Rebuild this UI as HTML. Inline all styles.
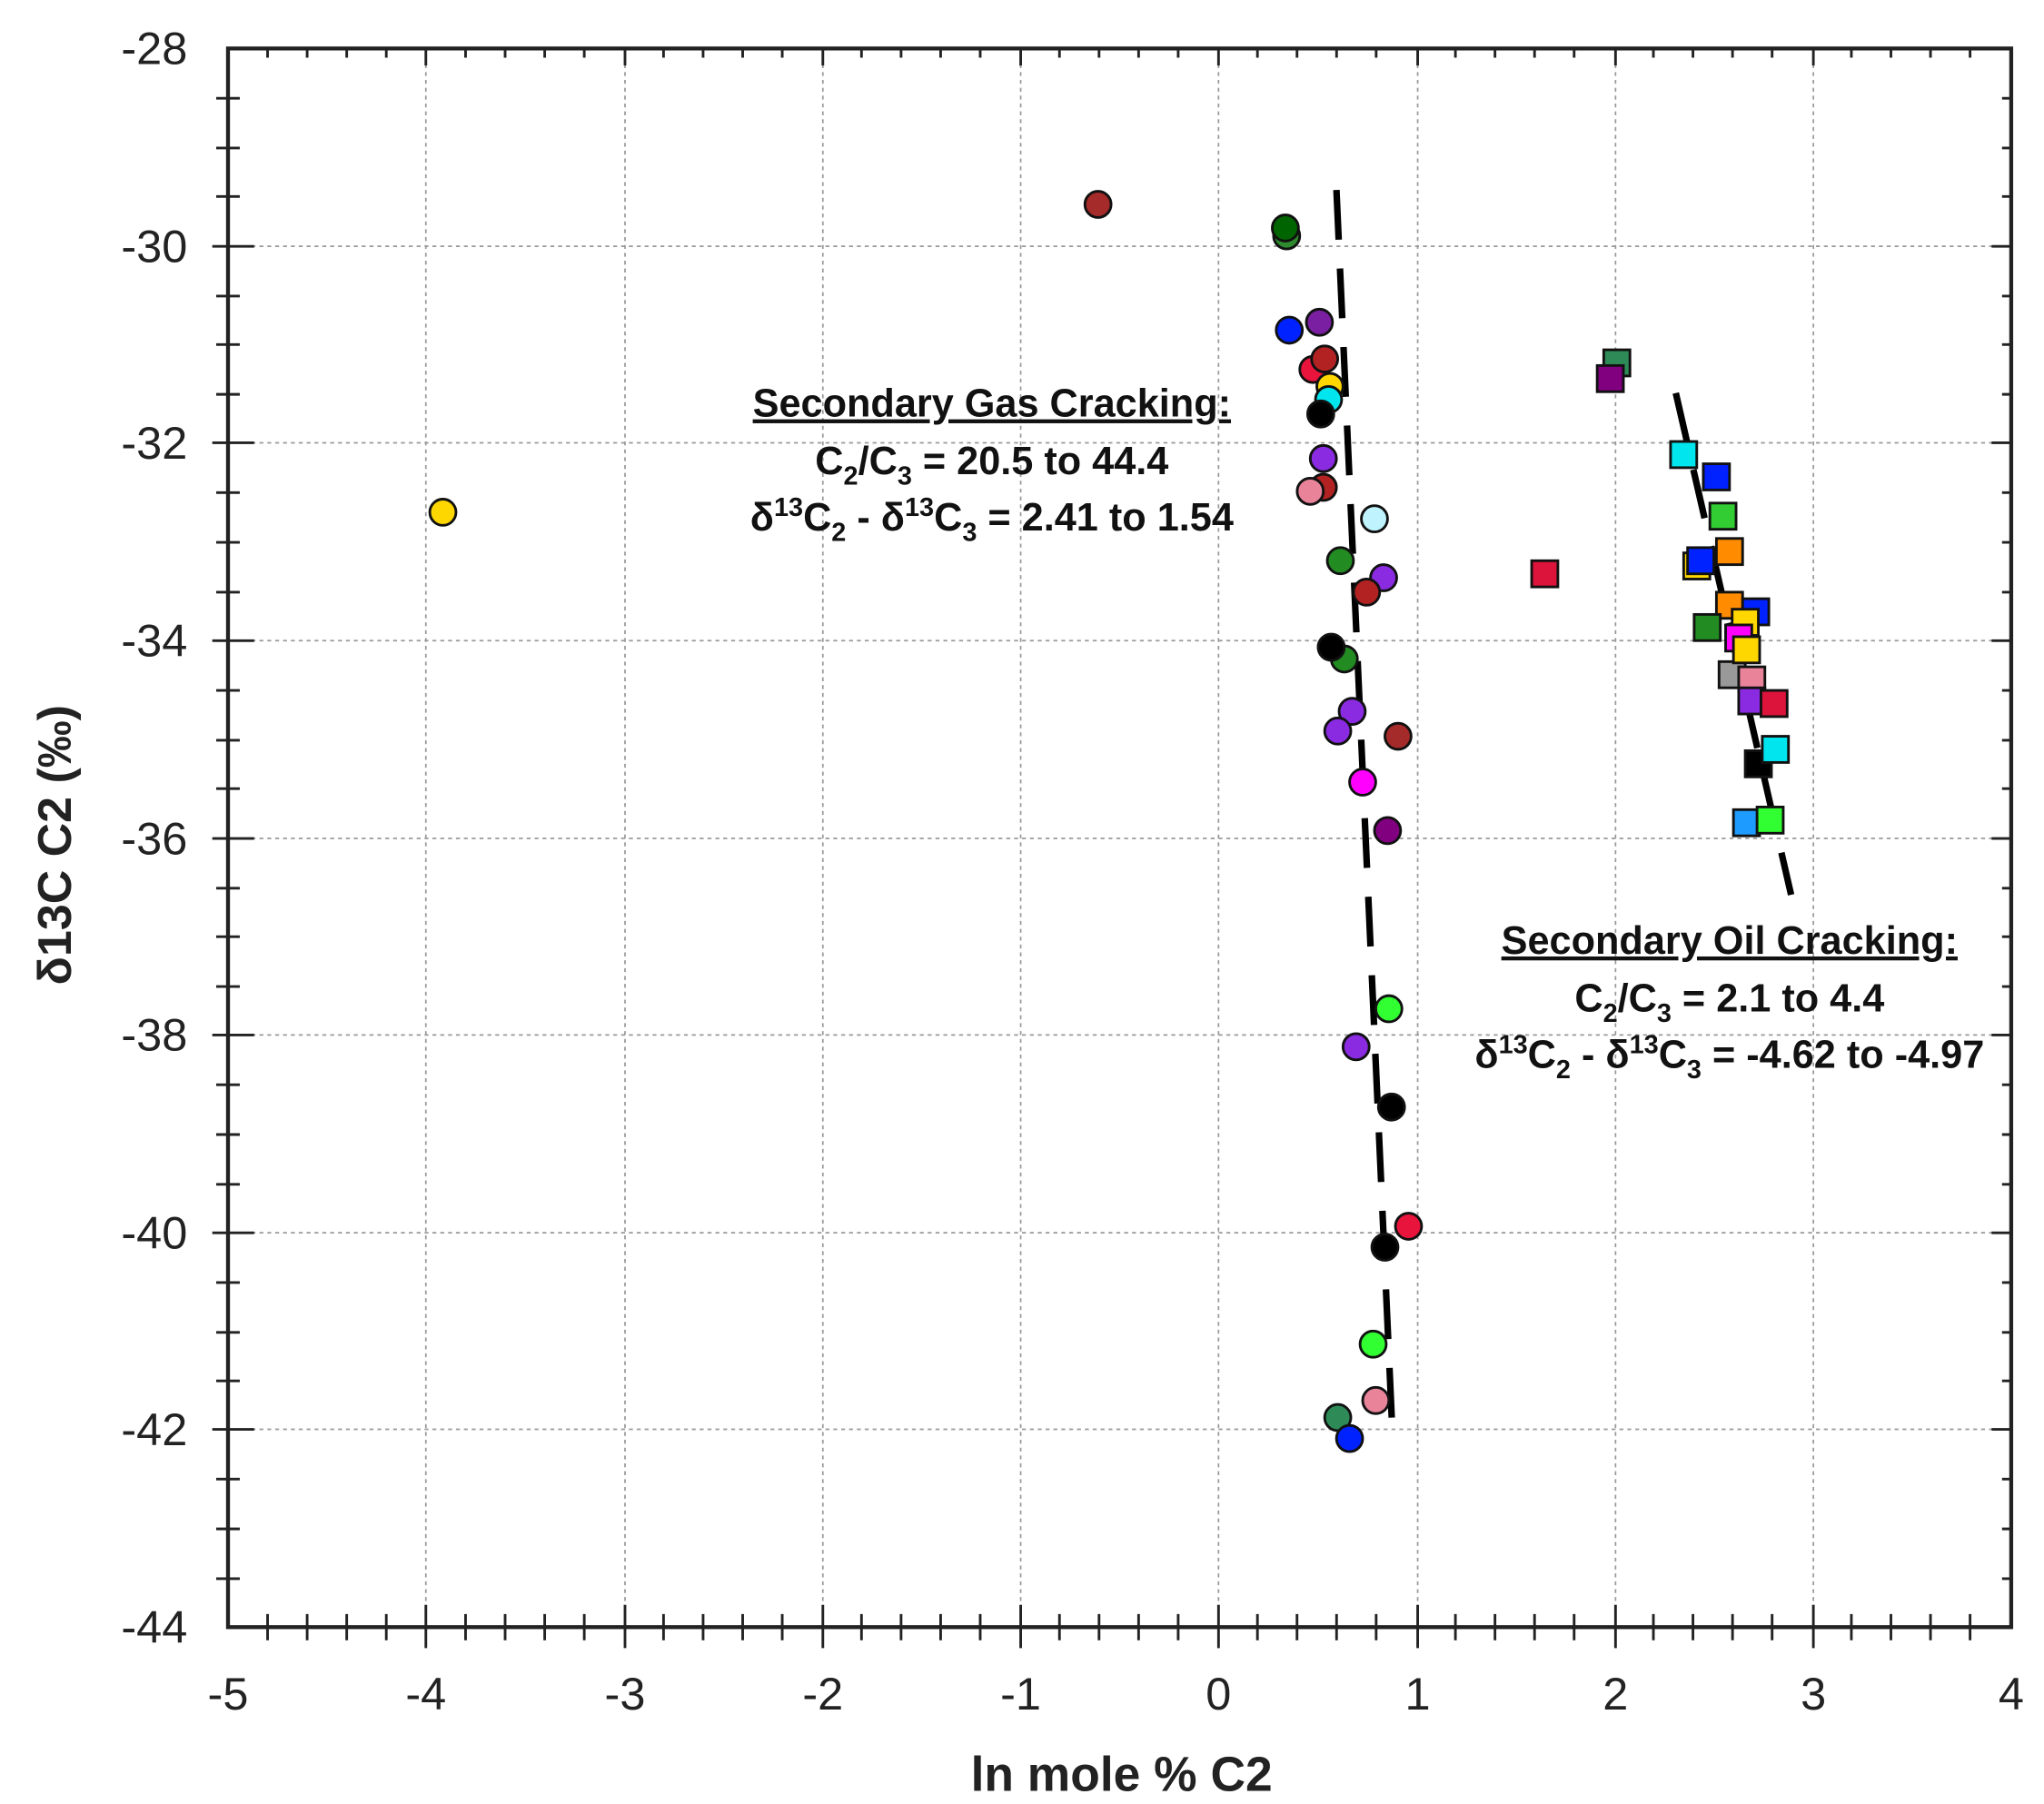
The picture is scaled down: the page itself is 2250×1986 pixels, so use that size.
<!DOCTYPE html>
<html><head><meta charset="utf-8"><style>html,body{margin:0;padding:0;background:#fff}svg{display:block}</style></head>
<body>
<svg width="2250" height="1986" viewBox="0 0 1560 1377" xmlns="http://www.w3.org/2000/svg" font-family="Liberation Sans, sans-serif">
<rect width="1560" height="1377" fill="#fff"/>
<g stroke="#999" stroke-width="1.2" stroke-dasharray="3,3">
<line x1="325" y1="37" x2="325" y2="1242"/><line x1="477" y1="37" x2="477" y2="1242"/><line x1="628" y1="37" x2="628" y2="1242"/><line x1="779" y1="37" x2="779" y2="1242"/><line x1="930" y1="37" x2="930" y2="1242"/><line x1="1082" y1="37" x2="1082" y2="1242"/><line x1="1233" y1="37" x2="1233" y2="1242"/><line x1="1384" y1="37" x2="1384" y2="1242"/>
<line x1="174" y1="188" x2="1535" y2="188"/><line x1="174" y1="338" x2="1535" y2="338"/><line x1="174" y1="489" x2="1535" y2="489"/><line x1="174" y1="640" x2="1535" y2="640"/><line x1="174" y1="790" x2="1535" y2="790"/><line x1="174" y1="941" x2="1535" y2="941"/><line x1="174" y1="1091" x2="1535" y2="1091"/>
</g>
<rect x="174" y="37" width="1361" height="1205" fill="none" stroke="#222" stroke-width="3"/>
<g font-size="35" fill="#222" text-anchor="end">
<text x="143" y="49">-28</text><text x="143" y="200">-30</text><text x="143" y="350">-32</text><text x="143" y="501">-34</text><text x="143" y="652">-36</text><text x="143" y="802">-38</text><text x="143" y="953">-40</text><text x="143" y="1103">-42</text><text x="143" y="1254">-44</text>
</g>
<g font-size="35" fill="#222" text-anchor="middle">
<text x="174" y="1305">-5</text><text x="325" y="1305">-4</text><text x="477" y="1305">-3</text><text x="628" y="1305">-2</text><text x="779" y="1305">-1</text><text x="930" y="1305">0</text><text x="1082" y="1305">1</text><text x="1233" y="1305">2</text><text x="1384" y="1305">3</text><text x="1535" y="1305">4</text>
</g>
<text x="856" y="1367" font-size="37" font-weight="bold" fill="#222" text-anchor="middle">ln mole % C2</text>
<text transform="translate(54,645) rotate(-90)" font-size="36" font-weight="bold" fill="#222" text-anchor="middle">δ13C C2 (‰)</text>
<g stroke="#000" stroke-width="5" stroke-dasharray="38,22" fill="none">
<line x1="1020" y1="145" x2="1063" y2="1100"/>
<line x1="1279" y1="300" x2="1367" y2="683"/>
</g>
<g stroke="#111" stroke-width="2">
<circle cx="838" cy="156" r="10" fill="#a52a2a"/>
<circle cx="982" cy="180" r="10" fill="#2e8b2e"/>
<circle cx="981" cy="174" r="10" fill="#006400"/>
<circle cx="984" cy="252" r="10" fill="#0022ff"/>
<circle cx="1007" cy="246" r="10" fill="#7b1fa2"/>
<circle cx="1002" cy="282" r="10" fill="#e8143c"/>
<circle cx="1011" cy="274" r="10" fill="#b22222"/>
<circle cx="1015" cy="295" r="10" fill="#ffd700"/>
<circle cx="1014" cy="305" r="10" fill="#00e5ee"/>
<circle cx="1008" cy="316" r="10" fill="#000"/>
<circle cx="1010" cy="350" r="10" fill="#8a2be2"/>
<circle cx="1010" cy="372" r="10" fill="#b22222"/>
<circle cx="1000" cy="375" r="10" fill="#e8839a"/>
<circle cx="338" cy="391" r="10" fill="#ffd700"/>
<circle cx="1049" cy="396" r="10" fill="#bff4ff"/>
<circle cx="1023" cy="428" r="10" fill="#228b22"/>
<circle cx="1056" cy="441" r="10" fill="#8a2be2"/>
<circle cx="1043" cy="452" r="10" fill="#b22222"/>
<circle cx="1026" cy="503" r="10" fill="#228b22"/>
<circle cx="1016" cy="494" r="10" fill="#000"/>
<circle cx="1067" cy="562" r="10" fill="#a52a2a"/>
<circle cx="1032" cy="543" r="10" fill="#8a2be2"/>
<circle cx="1021" cy="558" r="10" fill="#8a2be2"/>
<circle cx="1040" cy="597" r="10" fill="#ff00ff"/>
<circle cx="1059" cy="634" r="10" fill="#800080"/>
<circle cx="1060" cy="770" r="10" fill="#32ff32"/>
<circle cx="1035" cy="799" r="10" fill="#8a2be2"/>
<circle cx="1062" cy="845" r="10" fill="#000"/>
<circle cx="1075" cy="936" r="10" fill="#e8143c"/>
<circle cx="1057" cy="952" r="10" fill="#000"/>
<circle cx="1048" cy="1026" r="10" fill="#32ff32"/>
<circle cx="1050" cy="1069" r="10" fill="#e8839a"/>
<circle cx="1021" cy="1082" r="10" fill="#2e8b57"/>
<circle cx="1030" cy="1098" r="10" fill="#0022ff"/>
</g>
<g stroke="#111" stroke-width="2">
<rect x="1224" y="267" width="20" height="20" fill="#2e8b57"/>
<rect x="1219" y="279" width="20" height="20" fill="#800080"/>
<rect x="1275" y="337" width="20" height="20" fill="#00e5ee"/>
<rect x="1300" y="354" width="20" height="20" fill="#0022ff"/>
<rect x="1305" y="384" width="20" height="20" fill="#32cd32"/>
<rect x="1310" y="411" width="20" height="20" fill="#ff8c00"/>
<rect x="1285" y="422" width="20" height="20" fill="#ffd700"/>
<rect x="1288" y="418" width="20" height="20" fill="#0022ff"/>
<rect x="1169" y="428" width="20" height="20" fill="#dc143c"/>
<rect x="1310" y="452" width="20" height="20" fill="#ff8c00"/>
<rect x="1330" y="457" width="20" height="20" fill="#0022ff"/>
<rect x="1293" y="469" width="20" height="20" fill="#228b22"/>
<rect x="1322" y="465" width="20" height="20" fill="#ffd700"/>
<rect x="1312" y="505" width="20" height="20" fill="#999"/>
<rect x="1317" y="477" width="20" height="20" fill="#ff00ff"/>
<rect x="1323" y="486" width="20" height="20" fill="#ffd700"/>
<rect x="1327" y="509" width="20" height="20" fill="#e8839a"/>
<rect x="1327" y="525" width="20" height="20" fill="#8a2be2"/>
<rect x="1344" y="527" width="20" height="20" fill="#dc143c"/>
<rect x="1332" y="573" width="20" height="20" fill="#000"/>
<rect x="1345" y="562" width="20" height="20" fill="#00e5ee"/>
<rect x="1323" y="618" width="20" height="20" fill="#1e9bff"/>
<rect x="1341" y="616" width="20" height="20" fill="#32ff32"/>
</g>
<g font-size="30" font-weight="bold" fill="#111" text-anchor="middle">
<text x="757" y="318" text-decoration="underline">Secondary Gas Cracking:</text>
<text x="757" y="362">C<tspan font-size="20" dy="8">2</tspan><tspan dy="-8">/C</tspan><tspan font-size="20" dy="8">3</tspan><tspan dy="-8"> = 20.5 to 44.4</tspan></text>
<text x="757" y="405">δ<tspan font-size="20" dy="-11">13</tspan><tspan dy="11">C</tspan><tspan font-size="20" dy="8">2</tspan><tspan dy="-8"> - δ</tspan><tspan font-size="20" dy="-11">13</tspan><tspan dy="11">C</tspan><tspan font-size="20" dy="8">3</tspan><tspan dy="-8"> = 2.41 to 1.54</tspan></text>
<text x="1320" y="728" text-decoration="underline">Secondary Oil Cracking:</text>
<text x="1320" y="772">C<tspan font-size="20" dy="8">2</tspan><tspan dy="-8">/C</tspan><tspan font-size="20" dy="8">3</tspan><tspan dy="-8"> = 2.1 to 4.4</tspan></text>
<text x="1320" y="815">δ<tspan font-size="20" dy="-11">13</tspan><tspan dy="11">C</tspan><tspan font-size="20" dy="8">2</tspan><tspan dy="-8"> - δ</tspan><tspan font-size="20" dy="-11">13</tspan><tspan dy="11">C</tspan><tspan font-size="20" dy="8">3</tspan><tspan dy="-8"> = -4.62 to -4.97</tspan></text>
</g>
<g stroke="#222" stroke-width="2">
<path d="M204.2 1232V1252M234.4 1232V1252M264.6 1232V1252M294.8 1232V1252M355.3 1232V1252M385.5 1232V1252M415.7 1232V1252M445.9 1232V1252M506.4 1232V1252M536.6 1232V1252M566.8 1232V1252M597 1232V1252M657.5 1232V1252M687.7 1232V1252M717.9 1232V1252M748.1 1232V1252M808.6 1232V1252M838.8 1232V1252M869 1232V1252M899.2 1232V1252M959.7 1232V1252M989.9 1232V1252M1020.1 1232V1252M1050.3 1232V1252M1110.8 1232V1252M1141 1232V1252M1171.2 1232V1252M1201.4 1232V1252M1261.9 1232V1252M1292.1 1232V1252M1322.3 1232V1252M1352.5 1232V1252M1413 1232V1252M1443.2 1232V1252M1473.4 1232V1252M1503.6 1232V1252"/>
<path d="M325 1225V1258M477 1225V1258M628 1225V1258M779 1225V1258M930 1225V1258M1082 1225V1258M1233 1225V1258M1384 1225V1258"/>
<path d="M204.2 37V44M234.4 37V44M264.6 37V44M294.8 37V44M355.3 37V44M385.5 37V44M415.7 37V44M445.9 37V44M506.4 37V44M536.6 37V44M566.8 37V44M597 37V44M657.5 37V44M687.7 37V44M717.9 37V44M748.1 37V44M808.6 37V44M838.8 37V44M869 37V44M899.2 37V44M959.7 37V44M989.9 37V44M1020.1 37V44M1050.3 37V44M1110.8 37V44M1141 37V44M1171.2 37V44M1201.4 37V44M1261.9 37V44M1292.1 37V44M1322.3 37V44M1352.5 37V44M1413 37V44M1443.2 37V44M1473.4 37V44M1503.6 37V44"/>
<path d="M325 37V50M477 37V50M628 37V50M779 37V50M930 37V50M1082 37V50M1233 37V50M1384 37V50"/>
<path d="M165 75H183M165 113H183M165 150H183M165 226H183M165 263H183M165 301H183M165 376H183M165 414H183M165 452H183M165 527H183M165 565H183M165 602H183M165 678H183M165 715H183M165 753H183M165 828H183M165 866H183M165 904H183M165 979H183M165 1017H183M165 1054H183M165 1129H183M165 1167H183M165 1205H183"/>
<path d="M162 188H194M162 338H194M162 489H194M162 640H194M162 790H194M162 941H194M162 1091H194"/>
<path d="M1528 75H1535M1528 113H1535M1528 150H1535M1528 226H1535M1528 263H1535M1528 301H1535M1528 376H1535M1528 414H1535M1528 452H1535M1528 527H1535M1528 565H1535M1528 602H1535M1528 678H1535M1528 715H1535M1528 753H1535M1528 828H1535M1528 866H1535M1528 904H1535M1528 979H1535M1528 1017H1535M1528 1054H1535M1528 1129H1535M1528 1167H1535M1528 1205H1535"/>
<path d="M1520 188H1535M1520 338H1535M1520 489H1535M1520 640H1535M1520 790H1535M1520 941H1535M1520 1091H1535"/>
</g>
</svg>
</body></html>
